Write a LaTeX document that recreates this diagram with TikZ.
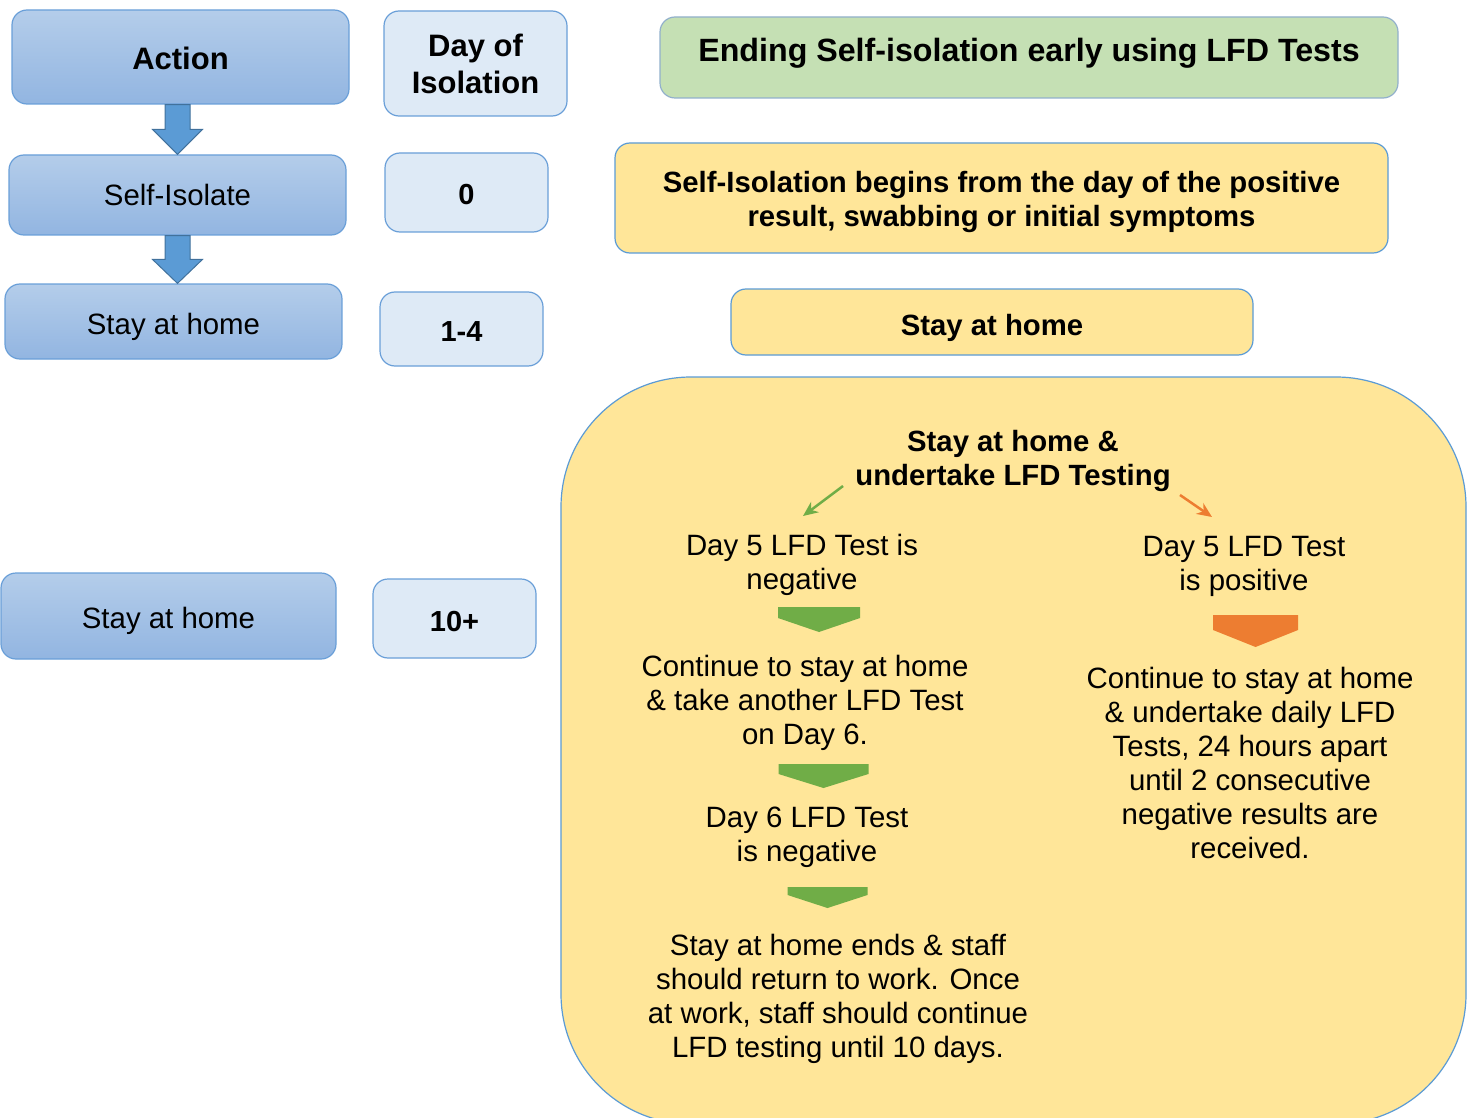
\documentclass[tikz,border=0pt]{standalone}
\usepackage{fontspec}
\setmainfont{Liberation Sans}
\usetikzlibrary{calc,arrows.meta}

\definecolor{actTop}{HTML}{B4CDEA}
\definecolor{actBot}{HTML}{92B5E1}
\definecolor{actLine}{HTML}{6A9FD8}
\definecolor{dayFill}{HTML}{DEEAF6}
\definecolor{arrowFill}{HTML}{5B9BD5}
\definecolor{arrowLine}{HTML}{41719C}
\definecolor{titleFill}{HTML}{C5E0B4}
\definecolor{noteFill}{HTML}{FFE699}
\definecolor{noteLine}{HTML}{5B9BD5}
\definecolor{goGreen}{HTML}{70AD47}
\definecolor{goOrange}{HTML}{ED7D31}

\tikzset{
  txt/.style={font=\fontsize{29.4}{34}\selectfont, align=center, inner sep=0pt},
  btxt/.style={font=\fontsize{29.3}{34.5}\selectfont\bfseries, align=center, inner sep=0pt},
  actbox/.style={draw=actLine, line width=1.2pt, rounded corners=15pt,
    top color=actTop, bottom color=actBot, inner sep=0pt},
  daybox/.style={draw=actLine, line width=1.2pt, rounded corners=15pt,
    fill=dayFill, inner sep=0pt},
  notebox/.style={draw=noteLine, line width=1.2pt, rounded corners=15pt,
    fill=noteFill, inner sep=0pt},
  blockarrow/.style={fill=arrowFill, draw=arrowLine, line width=1pt, line join=miter},
  thinarrow/.style={line width=2.5pt, -{Stealth[length=15pt,width=13pt]}},
  lowtext/.style={text height=#1, text depth=0pt},
}

% chevron: centre x, top y, half width, side height, total height, colour
\newcommand\chevron[6]{%
  \fill[#6] (#1-#3,#2) -- (#1+#3,#2) -- (#1+#3,#2+#4) -- (#1,#2+#5)
    -- (#1-#3,#2+#4) -- cycle;}

\begin{document}
\begin{tikzpicture}[x=1pt,y=-1pt]
\useasboundingbox (0,0) rectangle (1473,1118);

% ---- left column: actions
\node[actbox, minimum width=337pt, minimum height=94pt, lowtext=26pt,
  font=\fontsize{31}{36}\selectfont\bfseries] (act) at (180.5,57) {Action};
\node[actbox, minimum width=337pt, minimum height=80pt, font=\fontsize{29.4}{34}\selectfont]
  (self) at (177.5,195) {Self-Isolate};
\node[actbox, minimum width=337pt, minimum height=75pt, lowtext=25pt,
  font=\fontsize{29.4}{34}\selectfont] (stay) at (173.5,321.5) {Stay at home};
\node[actbox, minimum width=335pt, minimum height=86pt, lowtext=25pt,
  font=\fontsize{29.4}{34}\selectfont] (stayb) at (168.5,616) {Stay at home};

% ---- days of isolation
\node[daybox, minimum width=183pt, minimum height=105pt, align=center,
  font=\fontsize{31}{37}\selectfont\bfseries] (dhead) at (475.5,63.5) {Day of\\Isolation};
\node[daybox, minimum width=163pt, minimum height=79pt, lowtext=25pt,
  font=\fontsize{29}{34}\selectfont\bfseries] (d0) at (466.5,192.5) {0};
\node[daybox, minimum width=163pt, minimum height=74pt, lowtext=25pt,
  font=\fontsize{29}{34}\selectfont\bfseries] (d14) at (461.5,329) {1-4};
\node[daybox, minimum width=163pt, minimum height=79pt, lowtext=25pt,
  font=\fontsize{29}{34}\selectfont\bfseries] (d10) at (454.5,618.5) {10+};

% ---- block arrows between actions
\draw[blockarrow]
  ($(self.north |- act.south)+(-12.5,0)$) -- ($(self.north |- act.south)+(12.5,0)$)
  -- ($(self.north)+(12.5,-25)$) -- ($(self.north)+(25,-25)$) -- (self.north)
  -- ($(self.north)+(-25,-25)$) -- ($(self.north)+(-12.5,-25)$) -- cycle;
\draw[blockarrow]
  ($(self.south)+(-12.5,0)$) -- ($(self.south)+(12.5,0)$)
  -- ($(self.south |- stay.north)+(12.5,-24)$) -- ($(self.south |- stay.north)+(25,-24)$)
  -- (self.south |- stay.north)
  -- ($(self.south |- stay.north)+(-25,-24)$) -- ($(self.south |- stay.north)+(-12.5,-24)$) -- cycle;

% ---- right column
\node[draw=noteLine!80!black!60, line width=1.2pt, rounded corners=15pt, fill=titleFill,
  minimum width=738pt, minimum height=81pt, inner sep=0pt, text height=23pt, text depth=15pt,
  font=\fontsize{32.2}{37}\selectfont\bfseries] (title) at (1029,57.5)
  {Ending Self-isolation early using LFD Tests};
\node[notebox, minimum width=773pt, minimum height=110pt] (begin) at (1001.5,198) {};
\node[btxt] (begintext) at ($(begin.center)+(0,4)$)
  {Self-Isolation begins from the day of the positive\\result, swabbing or initial symptoms};
\node[notebox, minimum width=522pt, minimum height=66pt, btxt, lowtext=26pt] (stayr) at (992,322)
  {Stay at home};

% large rounded panel
\draw[notebox, rounded corners=130pt] (561,377) rectangle (1466,1124);

\node[btxt] (test) at (1013,461) {Stay at home \&\\undertake LFD Testing};
\node[txt] (neg5) at (802,565) {Day 5 LFD Test is\\negative};
\node[txt] (pos5) at (1244,566) {Day 5 LFD Test\\is positive};
\node[txt] (cont6) at (805,702.5) {Continue to stay at home\\\& take another LFD Test\\on Day 6.};
\node[txt] (neg6) at (807,837) {Day 6 LFD Test\\is negative};
\node[txt] (ends) at (838,999) {Stay at home ends \& staff\\should return to work. Once\\at work, staff should continue\\LFD testing until 10 days.};
\node[txt] (daily) at (1250,763) {Continue to stay at home\\\& undertake daily LFD\\Tests, 24 hours apart\\until 2 consecutive\\negative results are\\received.};

% branch arrows
\coordinate (gfrom) at (843,486);
\coordinate (gto) at (803,516);
\coordinate (ofrom) at (1180,495);
\coordinate (oto) at (1212,517);
\draw[thinarrow, goGreen] (gfrom) -- (gto);
\draw[thinarrow, goOrange] (ofrom) -- (oto);

% chevrons
\chevron{819}{607}{41}{11}{25}{goGreen}
\chevron{823.5}{764}{45}{10}{24}{goGreen}
\chevron{827.5}{887}{40}{8}{21}{goGreen}
\chevron{1255.5}{615}{42.5}{15}{32}{goOrange}

\end{tikzpicture}
\end{document}
